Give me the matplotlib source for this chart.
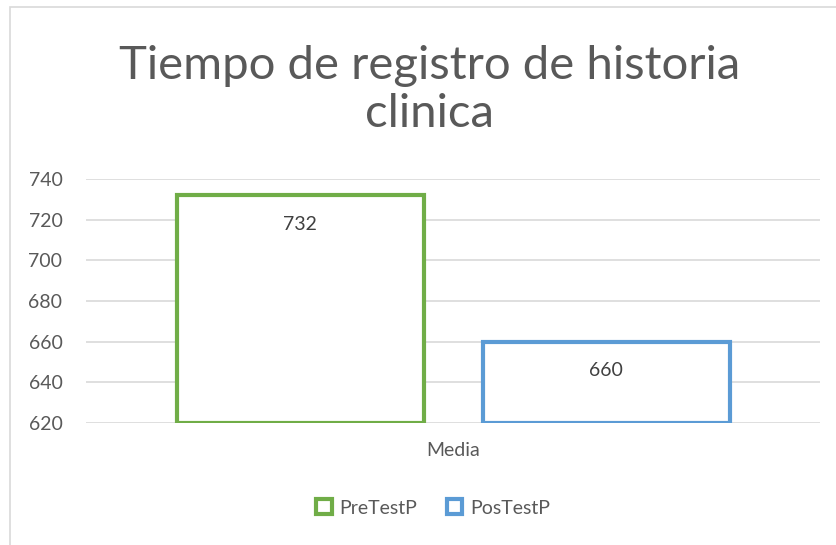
import matplotlib.pyplot as plt
from matplotlib.patches import Patch, Rectangle

# data
categories = ['Media']
series = ['PreTestP', 'PosTestP']
values = [732, 660]
colors = ['#70ad47', '#5b9bd5']
yticks = [620, 640, 660, 680, 700, 720, 740]

plt.rcParams['font.family'] = ['Lato', 'DejaVu Sans']

fig = plt.figure(figsize=(8.36, 5.45), dpi=100)
ax = fig.add_axes([0.1029, 0.2239, 0.878, 0.4477])

# chart border (light gray box)
fig.patches.append(Rectangle((10 / 836, -0.05), 1.2, 1.05 - 7 / 545, transform=fig.transFigure,
                             fill=False, edgecolor='#d9d9d9', linewidth=1.2))

offsets = [-0.208, 0.209]
width = 0.336
for name, v, c, off in zip(series, values, colors, offsets):
    ax.bar(off, v - 620, bottom=620, width=width, facecolor='white', edgecolor=c,
           linewidth=3, label=name, zorder=3)
    ax.annotate(str(v), (off, v), xytext=(0, -21), textcoords='offset points',
                ha='center', va='center', fontsize=14, color='#404040', zorder=4)

ax.set_xlim(-0.5, 0.5)
ax.set_ylim(620, 740)
ax.set_yticks(yticks)
ax.set_xticks([0])
ax.set_xticklabels(categories)
ax.tick_params(axis='y', length=0, pad=17, labelsize=14, labelcolor='#595959')
ax.tick_params(axis='x', length=0, pad=14, labelsize=14, labelcolor='#595959')
ax.grid(axis='y', color='#d9d9d9', linewidth=1.2, zorder=0)
for s in ax.spines.values():
    s.set_visible(False)

fig.text(0.514, 0.835, 'Tiempo de registro de historia\nclinica', ha='center', va='center',
         fontsize=34, color='#595959', linespacing=1.2)

handles = [Patch(facecolor='white', edgecolor=c, linewidth=3, label=n) for n, c in zip(series, colors)]
fig.legend(handles=handles, loc='center', bbox_to_anchor=(0.518, 0.068), ncol=2, frameon=False,
           fontsize=14, labelcolor='#595959', handlelength=0.8, handleheight=0.8,
           handletextpad=0.4, columnspacing=1.5)

fig.savefig('out.png', dpi=100)
